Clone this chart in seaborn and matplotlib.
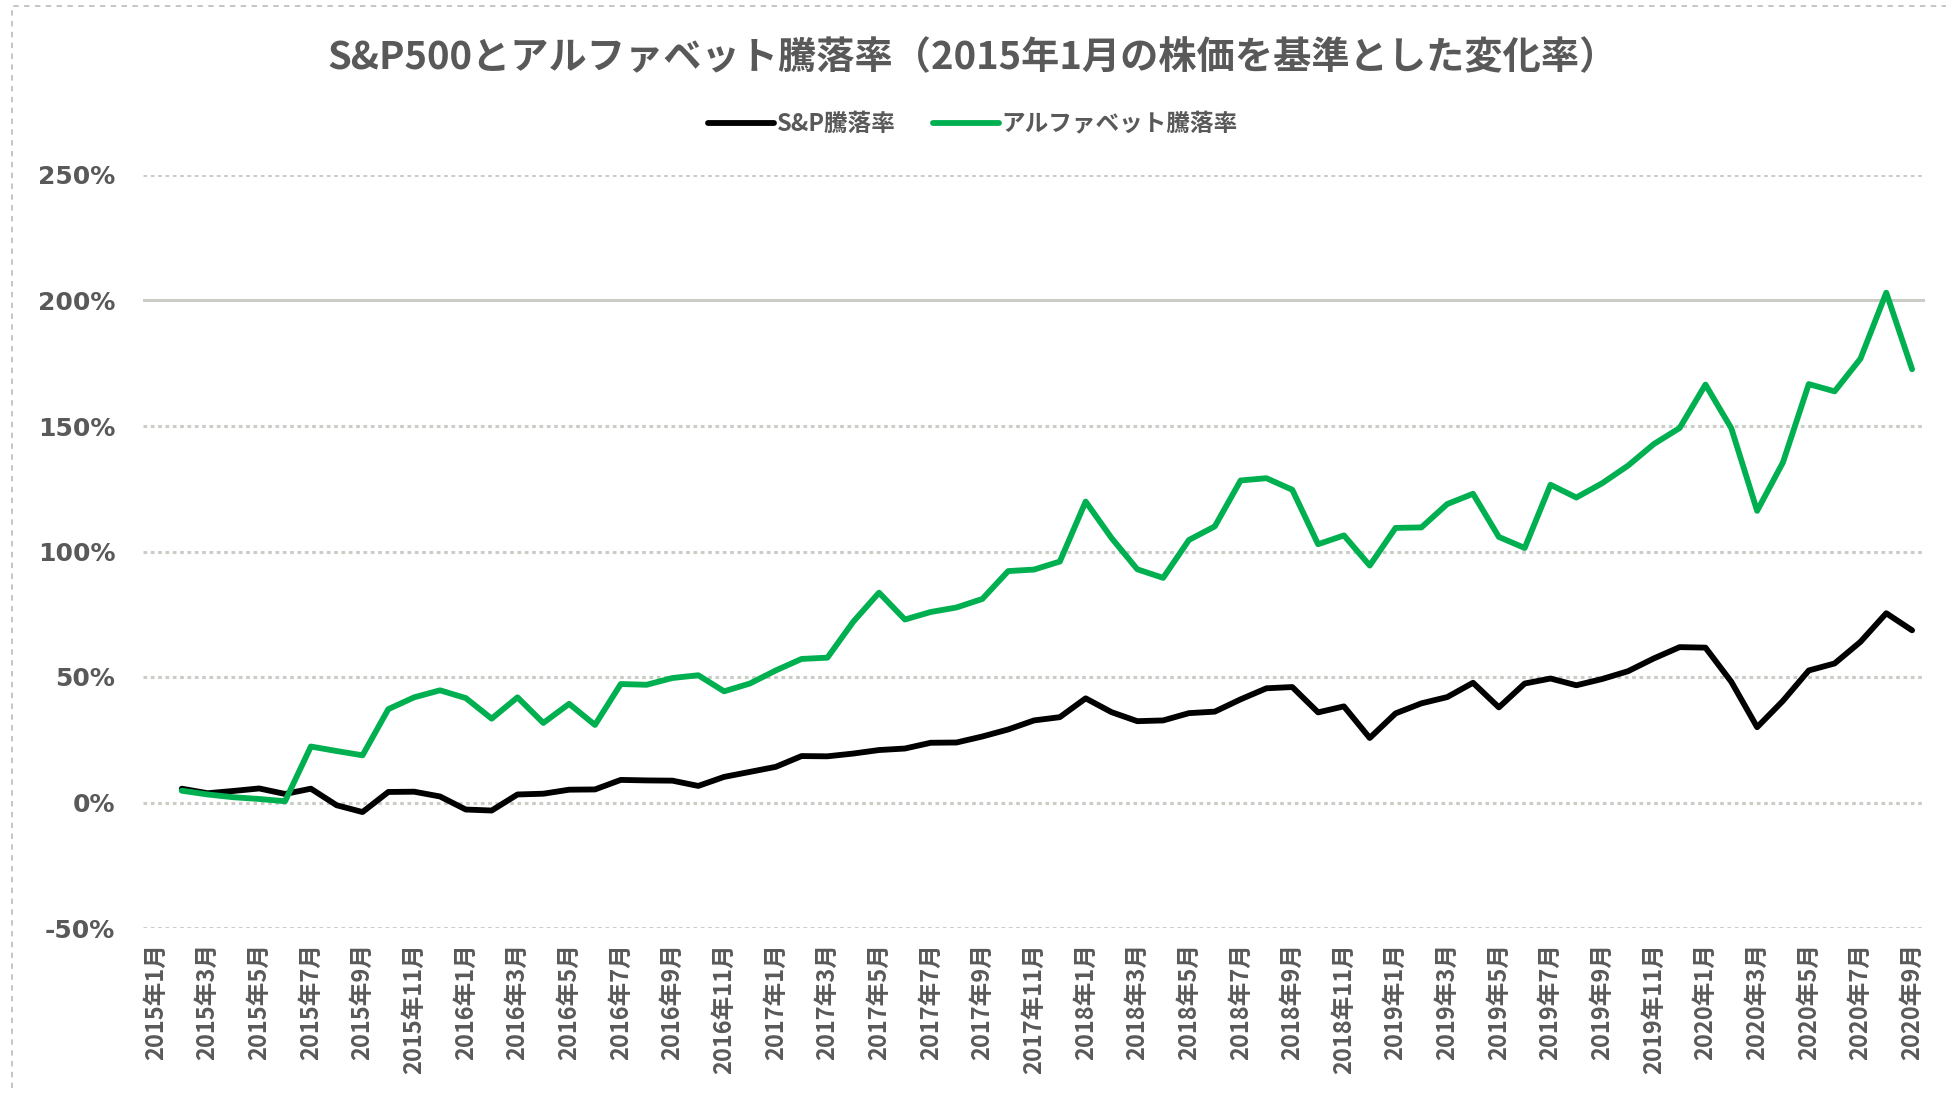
import numpy as np
import pandas as pd
import matplotlib
matplotlib.use("Agg")
import matplotlib.pyplot as plt
from matplotlib.patches import Rectangle
from matplotlib.lines import Line2D
import seaborn as sns

# ---------------- data ----------------
years = [2015, 2016, 2017, 2018, 2019, 2020]
months = [f"{y}年{m}月" for y in years for m in range(1, 13)][:69]   # 2015年1月 .. 2020年9月

series_names = ["S&P騰落率", "アルファベット騰落率"]

sp500 = [np.nan,
         5.5, 3.7, 4.6, 5.6, 3.4, 5.5, -1.1, -3.8, 4.2, 4.3, 2.4,
         -2.8, -3.2, 3.2, 3.5, 5.1, 5.2, 9.0, 8.8, 8.7, 6.6, 10.2, 12.2,
         14.2, 18.5, 18.4, 19.5, 20.9, 21.5, 23.8, 23.9, 26.3, 29.1, 32.7, 34.0,
         41.5, 36.0, 32.4, 32.7, 35.6, 36.2, 41.1, 45.5, 46.0, 35.9, 38.3, 25.7,
         35.5, 39.5, 42.0, 47.7, 37.9, 47.4, 49.4, 46.7, 49.2, 52.3, 57.4, 61.9,
         61.7, 48.1, 30.0, 40.5, 52.6, 55.4, 64.0, 75.4, 68.6]

alphabet = [np.nan,
            4.7, 3.2, 2.1, 1.4, 0.5, 22.3, 20.5, 18.8, 37.2, 41.9, 44.7,
            41.6, 33.4, 41.9, 31.7, 39.3, 30.9, 47.2, 46.9, 49.6, 50.7, 44.3, 47.4,
            52.6, 57.2, 57.7, 72.0, 83.6, 72.9, 75.9, 77.7, 81.1, 92.2, 92.8, 96.0,
            119.9, 105.4, 92.9, 89.5, 104.6, 110.0, 128.3, 129.2, 124.6, 102.9, 106.4, 94.4,
            109.4, 109.6, 118.9, 123.0, 105.8, 101.4, 126.6, 121.5, 127.2, 134.2, 142.8, 149.2,
            166.5, 149.1, 116.2, 135.5, 166.7, 163.8, 176.8, 203.1, 172.6]

y_ticks = [-50, 0, 50, 100, 150, 200, 250]
y_tick_labels = ["-50%", "0%", "50%", "100%", "150%", "200%", "250%"]

title = "S&P500とアルファベット騰落率（2015年1月の株価を基準とした変化率）"

colors = {"S&P騰落率": "#000000", "アルファベット騰落率": "#00B050"}

# ---------------- frame ----------------
pos = np.arange(len(months))
df = pd.concat([
    pd.DataFrame({"pos": pos, "value": sp500, "series": series_names[0]}),
    pd.DataFrame({"pos": pos, "value": alphabet, "series": series_names[1]}),
], ignore_index=True)

sns.set_theme(style="white")
plt.rcParams["font.family"] = ["Noto Sans CJK JP", "DejaVu Sans"]

W, H = 1946, 1093
fig = plt.figure(figsize=(W / 100, H / 100), dpi=100)
left, right, top, bottom = 143, 1925, 175, 928
ax = fig.add_axes([left / W, 1 - bottom / H, (right - left) / W, (bottom - top) / H])

sns.lineplot(data=df, x="pos", y="value", hue="series", palette=colors,
             hue_order=series_names, linewidth=4.2, ax=ax, legend=False,
             estimator=None, sort=False)

ax.set_xlim(-0.5, len(months) - 0.5)
ax.set_ylim(-50, 250)
ax.set_xlabel("")
ax.set_ylabel("")

ax.set_yticks(y_ticks)
ax.set_yticklabels(y_tick_labels, fontsize=18, fontweight="bold",
                   color="#595959", family=["DejaVu Sans"])
ax.set_xticks(pos[::2])
ax.set_xticklabels(months[::2], rotation=90, fontsize=17, fontweight="bold",
                   color="#595959")
ax.tick_params(axis="y", length=0, pad=20)
ax.tick_params(axis="x", length=0, pad=11)

for s in ax.spines.values():
    s.set_visible(False)

ax.grid(axis="y", color="#C9CDC6", linestyle=(0, (1.2, 1.2)), linewidth=2.2)
ax.grid(axis="x", visible=False)
for tick_val, gl in zip(y_ticks, ax.yaxis.get_gridlines()):
    if tick_val == 200:
        gl.set_linestyle("-")
ax.set_axisbelow(True)

# title and legend
fig.text(0.5, 1 - 58 / H, title, ha="center", va="center", fontsize=27.5,
         fontweight="bold", color="#595959")
handles = [Line2D([0], [0], color=colors[n], lw=4.2) for n in series_names]
fig.legend(handles, series_names, loc="center", bbox_to_anchor=(0.5, 1 - 124 / H),
           ncol=2, frameon=False, prop={"size": 17, "weight": "bold"},
           handlelength=2.8, handletextpad=0.1, columnspacing=1.6,
           labelcolor="#595959")

# dashed chart border
fig.patches.append(Rectangle((12 / W, -0.01), 1.0, 1 - 6 / H + 0.01, transform=fig.transFigure,
                             fill=False, edgecolor="#C0C0C0", linestyle=(0, (3, 3)),
                             linewidth=1.3))

fig.savefig("out.png", dpi=100)
